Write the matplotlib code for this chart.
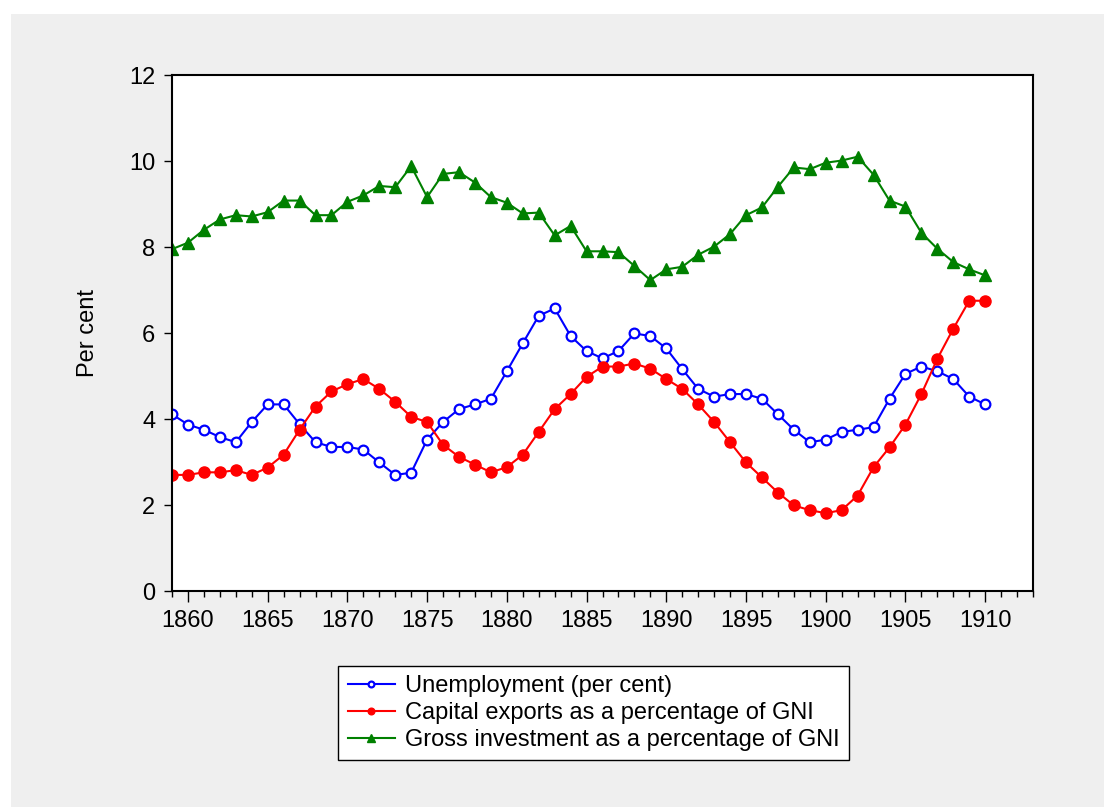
import numpy as np
import matplotlib
matplotlib.use('Agg')
import matplotlib.pyplot as plt
from matplotlib.ticker import MultipleLocator

years = np.arange(1859, 1911)

unemployment = [4.11, 3.87, 3.75, 3.58, 3.46, 3.93, 4.34, 4.34, 3.88, 3.46,
                3.35, 3.35, 3.29, 2.99, 2.70, 2.75, 3.52, 3.93, 4.23, 4.34,
                4.47, 5.11, 5.76, 6.40, 6.57, 5.93, 5.58, 5.41, 5.58, 5.99,
                5.93, 5.64, 5.16, 4.70, 4.52, 4.58, 4.58, 4.47, 4.11, 3.75,
                3.46, 3.52, 3.70, 3.75, 3.81, 4.47, 5.05, 5.22, 5.11, 4.93,
                4.52, 4.34]

capital_exports = [2.70, 2.70, 2.76, 2.76, 2.81, 2.70, 2.87, 3.17, 3.75, 4.29,
                   4.64, 4.81, 4.93, 4.70, 4.40, 4.05, 3.93, 3.40, 3.12, 2.94,
                   2.76, 2.88, 3.17, 3.70, 4.23, 4.58, 4.98, 5.22, 5.22, 5.29,
                   5.17, 4.93, 4.70, 4.34, 3.93, 3.46, 2.99, 2.64, 2.29, 1.99,
                   1.88, 1.81, 1.88, 2.22, 2.88, 3.34, 3.87, 4.58, 5.40, 6.10,
                   6.75, 6.75]

gross_investment = [7.95, 8.10, 8.40, 8.64, 8.74, 8.71, 8.81, 9.08, 9.08, 8.74,
                    8.74, 9.05, 9.20, 9.42, 9.39, 9.88, 9.16, 9.70, 9.74, 9.50,
                    9.16, 9.03, 8.78, 8.80, 8.27, 8.49, 7.90, 7.90, 7.88, 7.56,
                    7.23, 7.48, 7.54, 7.82, 8.01, 8.30, 8.74, 8.92, 9.40, 9.85,
                    9.81, 9.96, 10.01, 10.10, 9.68, 9.08, 8.94, 8.33, 7.96, 7.65,
                    7.48, 7.34]

labels = ['Unemployment (per cent)',
          'Capital exports as a percentage of GNI',
          'Gross investment as a percentage of GNI']

plt.rc('font', family=['Liberation Sans', 'DejaVu Sans'], size=17)

W, H = 1104, 807
fig = plt.figure(figsize=(W/100., H/100.), dpi=100, facecolor='white')
# grey panel behind the chart
fig.patches.append(plt.Rectangle((11./W, 0), 1., 1. - 14./H, transform=fig.transFigure,
                                 facecolor='#efefef', edgecolor='none', zorder=-10))

ax = fig.add_axes([172./W, 1 - 591./H, (1033. - 172.)/W, (591. - 75.)/H])
ax.set_facecolor('white')

lw = 1.5
ax.plot(years, unemployment, color='#0000ff', linewidth=lw, marker='o', markersize=7,
        markerfacecolor='white', markeredgecolor='#0000ff', markeredgewidth=1.6, label=labels[0])
ax.plot(years, capital_exports, color='#ff0000', linewidth=lw, marker='o', markersize=8,
        markerfacecolor='#ff0000', markeredgecolor='#ff0000', label=labels[1])
ax.plot(years, gross_investment, color='#008000', linewidth=lw, marker='^', markersize=9,
        markerfacecolor='#008000', markeredgecolor='#008000', label=labels[2])

ax.set_xlim(1859, 1913)
ax.set_ylim(0, 12)
ax.xaxis.set_minor_locator(MultipleLocator(1))
ax.yaxis.set_major_locator(MultipleLocator(2))
ax.set_xticks(np.arange(1860, 1911, 5))
ax.tick_params(axis='x', which='major', direction='out', length=8, width=1, pad=6)
ax.tick_params(axis='x', which='minor', direction='out', length=4.5, width=1)
ax.tick_params(axis='y', which='major', direction='out', length=6, width=1, pad=6)
ax.tick_params(top=False, right=False)
for sp in ax.spines.values():
    sp.set_linewidth(1.5)
    sp.set_color('black')

ax.set_ylabel('Per cent', labelpad=22)

leg = ax.legend(loc='upper center', bbox_to_anchor=(593.5/W, 1 - 666./H),
                bbox_transform=fig.transFigure, borderaxespad=0, fancybox=False,
                frameon=True, edgecolor='black', framealpha=1, handlelength=2.0,
                markerscale=0.6, labelspacing=0.2, borderpad=0.4, handletextpad=0.4,
                fontsize=17)
leg.get_frame().set_linewidth(1.0)

fig.savefig('out.png', dpi=100, facecolor=fig.get_facecolor())
